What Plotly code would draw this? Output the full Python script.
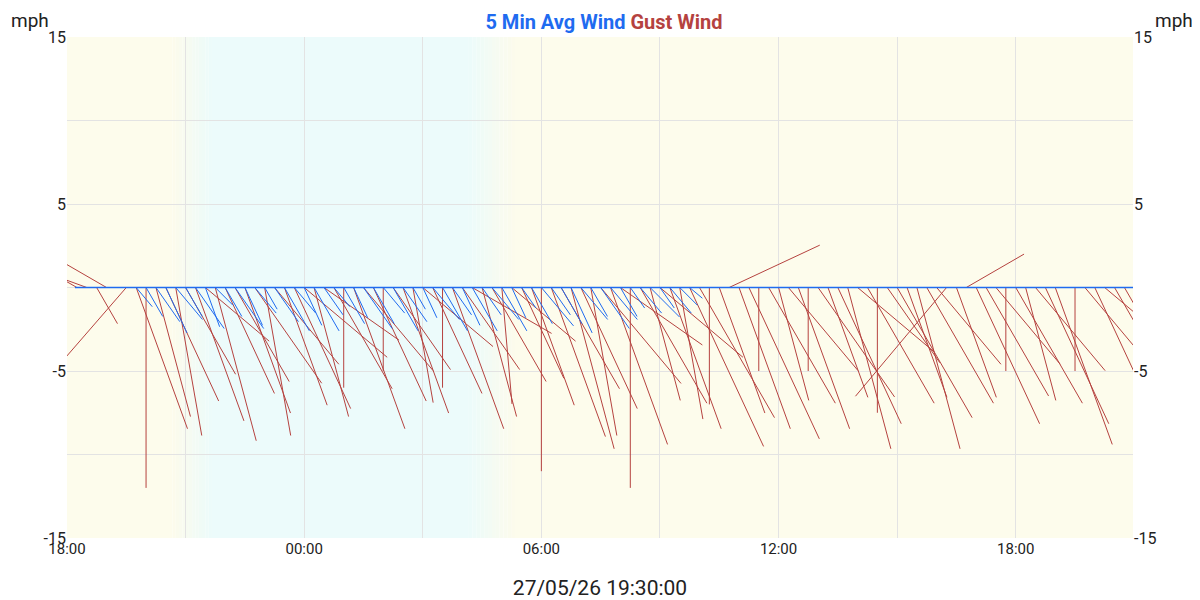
import numpy as np
import pandas as pd
import plotly.graph_objects as go

# gust samples every 15 min from 26/05 18:00
gust_start = "2026-05-26 18:00"
gust_speed = [2.5, 3, 3.5, 2.5, 3, 0, 10.4, 9, 12, 8, 7.5, 9, 6, 8.5, 5, 9.5, 7, 6.5, 8,
              7, 9, 6, 7.5, 8, 6.5, 8, 5.5, 7, 6, 9, 6.5, 7.5, 5, 6, 8, 7,
              5.5, 7, 6, 9, 6, 5.5, 8, 6.5, 7, 5, 6, 7.5, 11, 9.5, 7, 10,
              8, 9, 7.5, 10, 6, 12, 8, 7, 6.5, 9, 8, 10.5, 9, 7, 8, 6,
              9, 10, 5, 8, 7, 6.5, 9, 5, 8, 7, 9, 10, 6, 8, 7.5, 5.5,
              9, 7, 10, 8, 6, 8.5, 7, 4, 9, 7.5, 6, 5, 8, 7, 6.5, 9,
              10, 0, 5, 7.5, 9, 6, 8, 9.5]
gust_dir = [295, 300, 290, 150, 300, 0, 221, 160, 180, 165, 155, 170, 150, 160, 130, 165, 155, 150, 160,
            145, 170, 140, 160, 155, 130, 165, 125, 150, 180, 160, 140, 155, 180, 145, 160, 170,
            130, 155, 180, 160, 145, 120, 165, 150, 175, 130, 155, 160, 180, 160, 150, 165,
            155, 170, 140, 160, 125, 180, 150, 165, 130, 160, 170, 155, 150, 180, 160, 65,
            160, 155, 180, 150, 165, 140, 160, 180, 145, 160, 155, 165, 130, 150, 180, 145,
            150, 160, 165, 150, 140, 220, 160, 60, 155, 150, 140, 180, 150, 165, 140, 155,
            160, 0, 180, 140, 155, 130, 150, 150]

# 5 minute average every 15 min from 26/05 19:45
avg_start = "2026-05-26 19:45"
avg_speed = [1.5, 2, 2.5, 3, 2.5, 2, 3, 2.5, 1.5, 2, 3, 2.5, 2, 1.5, 2.5, 3, 2, 2.5,
             3, 2, 1.5, 2.5, 2, 3, 2.5, 2, 3, 2.5, 1.5, 2, 2.5, 3, 2, 2.5, 3, 2,
             2.5, 3, 2, 1.5, 2.5, 3, 2, 2.5, 3, 2.5, 2, 3, 2.5, 2, 1.5, 2, 2.5, 1.5,
             2, 1.5, 1]
avg_dir = [140, 150, 145, 155, 140, 150, 145, 160, 135, 150, 145, 155, 140, 150, 145, 150, 140, 155,
           150, 145, 140, 150, 155, 145, 150, 140, 150, 145, 150, 155, 140, 150, 145, 155, 150, 145,
           140, 150, 155, 145, 150, 140, 145, 150, 155, 140, 150, 145, 140, 150, 145, 140, 135, 145,
           140, 135, 130]

MIN_PER_MPH = 25.3  # horizontal scale so vectors keep their angle


def vectors(start, speed, direction):
    t0 = pd.Timestamp(start)
    xs, ys = [], []
    for i, (s, d) in enumerate(zip(speed, direction)):
        if s == 0:
            continue
        t = t0 + pd.Timedelta(minutes=15 * i)
        dx = s * np.sin(np.radians(d))
        dy = s * np.cos(np.radians(d))
        xs += [t, t + pd.Timedelta(minutes=dx * MIN_PER_MPH), None]
        ys += [0, dy, None]
    return xs, ys


BLUE = "#1f6bf0"
RED = "#b5423f"

fig = go.Figure()

gx, gy = vectors(gust_start, gust_speed, gust_dir)
fig.add_trace(go.Scatter(x=gx, y=gy, mode="lines", line=dict(color=RED, width=1), showlegend=False))
ax, ay = vectors(avg_start, avg_speed, avg_dir)
fig.add_trace(go.Scatter(x=ax, y=ay, mode="lines", line=dict(color=BLUE, width=1), showlegend=False))
fig.add_trace(go.Scatter(x=["2026-05-26 18:12", "2026-05-27 21:00"], y=[0, 0], mode="lines",
                         line=dict(color=BLUE, width=1.3), showlegend=False))
fig.add_trace(go.Scatter(x=["2026-05-26 18:00"], y=[0], yaxis="y2", mode="markers",
                         marker=dict(opacity=0), showlegend=False, hoverinfo="skip"))

# day / night background
day, night = (253, 252, 236), (236, 251, 251)


def band(a, b, c1, c2, n=1):
    ta, tb = pd.Timestamp(a), pd.Timestamp(b)
    for k in range(n):
        f = (k + 0.5) / n
        col = tuple(int(c1[j] + (c2[j] - c1[j]) * f) for j in range(3))
        fig.add_shape(type="rect", xref="x", yref="paper", layer="below", line_width=0,
                      x0=ta + (tb - ta) * k / n, x1=ta + (tb - ta) * (k + 1) / n, y0=0, y1=1,
                      fillcolor="rgb(%d,%d,%d)" % col)


band("2026-05-26 18:00", "2026-05-26 20:40", day, day)
band("2026-05-26 20:40", "2026-05-26 21:40", day, night, 12)
band("2026-05-26 21:40", "2026-05-27 04:10", night, night)
band("2026-05-27 04:10", "2026-05-27 05:20", night, day, 12)
band("2026-05-27 05:20", "2026-05-27 20:58", day, day)

ticks = pd.date_range("2026-05-26 18:00", "2026-05-27 18:00", freq="3h")
fig.update_xaxes(type="date", range=["2026-05-26 18:00", "2026-05-27 20:58"], automargin=False,
                 tickvals=ticks, ticktext=[t.strftime("%H:%M") if t.hour % 6 == 0 else "" for t in ticks],
                 showgrid=True, gridcolor="#e3e3e3", ticks="", zeroline=False,
                 tickfont=dict(size=15, color="#222"),
                 title=dict(text="27/05/26 19:30:00", font=dict(size=21, color="#222"), standoff=24))
yt = [-15, -10, -5, 0, 5, 10, 15]
ytt = ["-15", "", "-5", "", "5", "", "15"]
fig.update_layout(
    width=1192, height=592, plot_bgcolor="white", paper_bgcolor="white",
    font=dict(family="Roboto"),
    margin=dict(l=59, r=67, t=29, b=62),
    yaxis=dict(range=[-15, 15], tickvals=yt, ticktext=ytt, showgrid=True, gridcolor="#e3e3e3",
               zeroline=False, automargin=False, tickfont=dict(size=16, color="#222")),
    yaxis2=dict(range=[-15, 15], tickvals=yt, ticktext=ytt, overlaying="y", side="right",
                showgrid=False, zeroline=False, automargin=False, tickfont=dict(size=16, color="#222")),
    title=dict(text="<b><span style='color:%s'>5 Min Avg Wind</span> <span style='color:%s'>Gust Wind</span></b>" % (BLUE, RED),
               x=0.5, y=0.988, font=dict(size=20)),
    annotations=[
        dict(text="mph", xref="paper", yref="paper", x=-0.054, y=1.06, showarrow=False,
             xanchor="left", yanchor="top", font=dict(size=19, color="#222")),
        dict(text="mph", xref="paper", yref="paper", x=1.058, y=1.06, showarrow=False,
             xanchor="right", yanchor="top", font=dict(size=19, color="#222")),
    ],
)

fig.write_html("out.html")
